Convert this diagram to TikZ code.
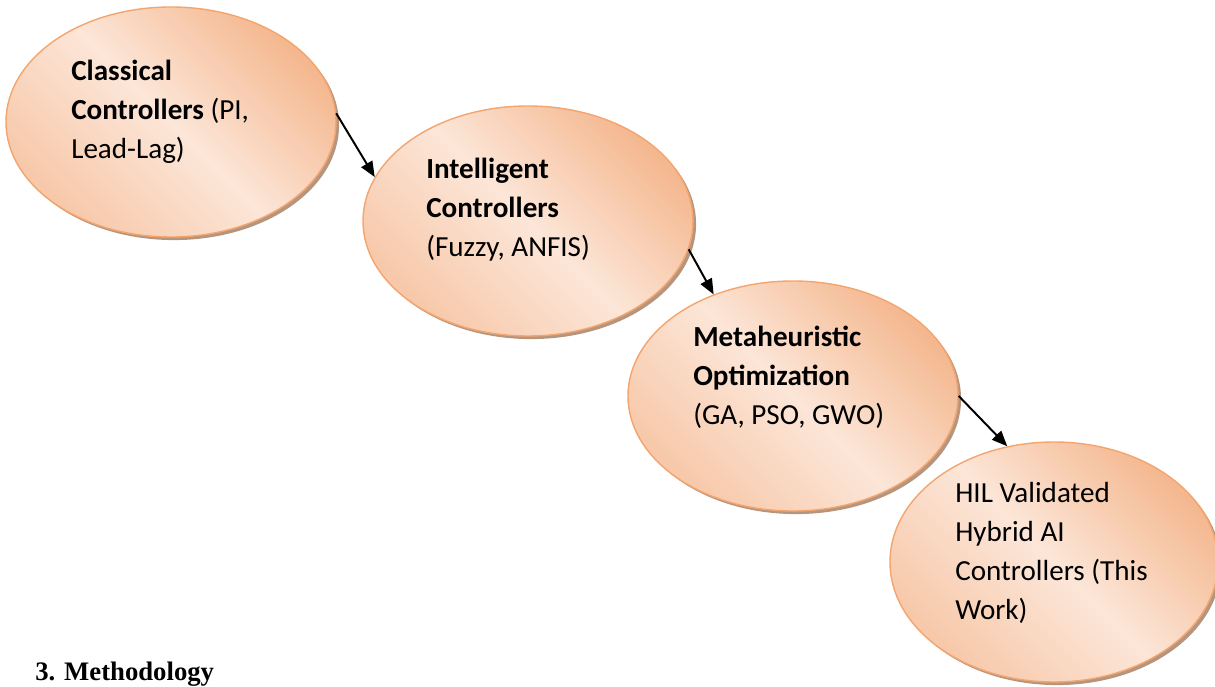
\documentclass[tikz,border=0pt]{standalone}
\usepackage{fontspec}
\setmainfont{Carlito}
\newfontfamily\titlefont{Liberation Serif}
\usetikzlibrary{shapes.geometric, arrows.meta, positioning, shadows}
\definecolor{pdark}{HTML}{F4B78E}
\definecolor{plight}{HTML}{FCE6D8}
\definecolor{pmid}{HTML}{F7C8A9}
\definecolor{pborde}{HTML}{F4A56E}
\definecolor{psombra}{HTML}{B6957F}

\begin{document}
\begin{tikzpicture}[
            etapa/.style={ellipse, draw=pborde, line width=1pt, minimum width=8.25cm, minimum height=5.75cm,
                top color=pdark, bottom color=pmid, middle color=plight, shading angle=-45,
                drop shadow={shadow xshift=2.2pt, shadow yshift=-2.2pt, fill=psombra, opacity=1}},
            texto/.style={anchor=base west, align=left, inner sep=0pt, font=\fontsize{20.7}{27.9}\selectfont},
            flecha/.style={-{Triangle[length=11pt, width=9pt]}, line width=1.4pt}]

            \useasboundingbox (0,0) rectangle (30.375,17.15);

            \node[etapa] (cla) at (4.275,14.1) {};
            \node[etapa] (int) at (13.2,11.625) {};
            \node[etapa] (met) at (19.825,7.25) {};
            \node[etapa, minimum width=8.2cm, minimum height=6cm] (hil) at (26.35,3.1) {};

            % base = last line
            \node[texto] (tcla) at (1.775,13.175) {\textbf{Classical}\\\textbf{Controllers} (PI,\\Lead-Lag)};
            \node[texto] (tint) at (10.65,10.725) {\textbf{Intelligent}\\\textbf{Controllers}\\(Fuzzy, ANFIS)};
            \node[texto] (tmet) at (17.325,6.525) {\textbf{Metaheuristic}\\\textbf{Optimization}\\(GA, PSO, GWO)};
            \node[texto] (thil) at (23.875,1.65) {HIL Validated\\Hybrid AI\\Controllers (This\\Work)};

            \draw[flecha] (cla.3) -- (int.164);
            \draw[flecha] (int.-10) -- (met.128);
            \draw[flecha] (met.0) -- (hil.112);

            \node[anchor=base west, inner sep=0pt, font=\titlefont\bfseries\fontsize{19}{22}\selectfont] (tit) at (0.875,0.15) {3. Methodology};
        \end{tikzpicture}
\end{document}
